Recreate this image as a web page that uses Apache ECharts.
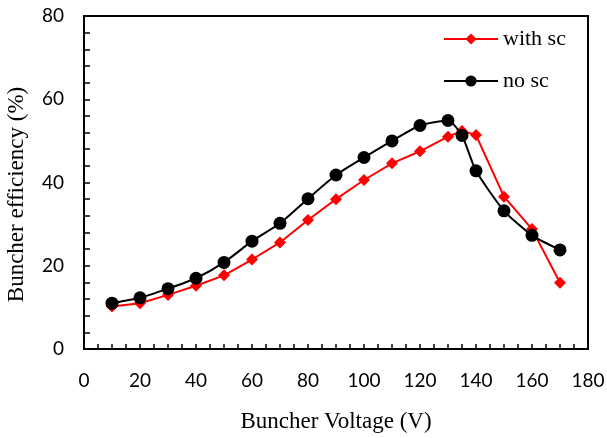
<!DOCTYPE html>
<html>
<head>
<meta charset="utf-8">
<script src="https://cdn.jsdelivr.net/npm/echarts@6/dist/echarts.min.js"></script>
<style>
  html, body { margin: 0; padding: 0; background: #fff; }
  #chart { width: 607px; height: 438px; }
</style>
</head>
<body>
<div id="chart"></div>
<script>
// buncher voltage (V)
const voltage = [10, 20, 30, 40, 50, 60, 70, 80, 90, 100, 110, 120, 130, 135, 140, 150, 160, 170]
// efficiency (%) with space charge
const withSc = [10.2, 11.0, 13.0, 15.2, 17.7, 21.5, 25.6, 31.0, 36.0, 40.6, 44.6, 47.5, 51.0, 52.4, 51.4, 36.6, 28.8, 15.9]
// efficiency (%) without space charge
const noSc = [11.0, 12.3, 14.5, 17.0, 20.8, 25.9, 30.2, 36.1, 41.8, 46.0, 50.0, 53.7, 54.9, 51.3, 42.8, 33.2, 27.3, 23.8]

const pairs = (xs, ys) => xs.map((x, i) => [x, ys[i]])

const chart = echarts.init(document.getElementById('chart'))
chart.setOption({
  animation: false,
  backgroundColor: '#fff',
  grid: {
    left: 84,
    right: 19,
    top: 16,
    bottom: 89,
    outerBoundsMode: 'none',
    containLabel: false,
    show: true,
    borderColor: '#000',
    borderWidth: 2
  },
  legend: {
    orient: 'vertical',
    left: 438,
    top: 23,
    itemWidth: 54,
    itemHeight: 14,
    itemGap: 20,
    textStyle: {
      fontFamily: 'Liberation Serif',
      fontSize: 22,
      color: '#000'
    },
    data: ['with sc', 'no sc']
  },
  xAxis: {
    type: 'value',
    min: 0,
    max: 180,
    interval: 20,
    name: 'Buncher Voltage (V)',
    nameLocation: 'middle',
    nameGap: 61,
    nameTextStyle: { fontFamily: 'Liberation Serif', fontSize: 23, color: '#000' },
    axisLine: { onZero: false, lineStyle: { color: '#000', width: 2 } },
    axisTick: { inside: true, length: 5, lineStyle: { color: '#000', width: 1.5 } },
    minorTick: { show: true, splitNumber: 4, length: 5, lineStyle: { color: '#000', width: 1.5 } },
    axisLabel: { margin: 22, fontFamily: 'Lato', fontSize: 19, color: '#000' },
    splitLine: { show: false }
  },
  yAxis: {
    type: 'value',
    min: 0,
    max: 80,
    interval: 20,
    name: 'Buncher efficiency (%)',
    nameLocation: 'middle',
    nameGap: 56,
    nameTextStyle: { fontFamily: 'Liberation Serif', fontSize: 23, color: '#000', padding: [0, 24, 0, 0] },
    axisLine: { onZero: false, lineStyle: { color: '#000', width: 2 } },
    axisTick: { inside: true, length: 6, lineStyle: { color: '#000', width: 1.5 } },
    minorTick: { show: true, splitNumber: 5, length: 6, lineStyle: { color: '#000', width: 1.5 } },
    axisLabel: { margin: 20, fontFamily: 'Lato', fontSize: 19, color: '#000' },
    splitLine: { show: false }
  },
  series: [
    {
      name: 'with sc',
      type: 'line',
      data: pairs(voltage, withSc),
      symbol: 'diamond',
      symbolSize: 12,
      color: '#ff0000',
      lineStyle: { color: '#ff0000', width: 2 },
      z: 2
    },
    {
      name: 'no sc',
      type: 'line',
      data: pairs(voltage, noSc),
      symbol: 'circle',
      symbolSize: 13,
      smooth: 0.2,
      color: '#000',
      lineStyle: { color: '#000', width: 2 },
      z: 3
    }
  ]
})
</script>
</body>
</html>
